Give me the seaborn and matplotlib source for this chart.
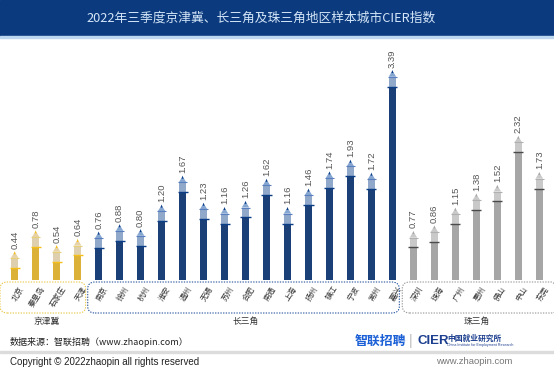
import matplotlib
matplotlib.use("Agg")
import matplotlib.pyplot as plt
import matplotlib.transforms as mtransforms
from matplotlib.patches import FancyBboxPatch, Rectangle
import pandas as pd
import seaborn as sns

# -----------------------------
# Data
# -----------------------------
jjj_cities = ["北京", "秦皇岛", "石家庄", "天津"]
jjj_values = [0.44, 0.78, 0.54, 0.64]
csj_cities = ["南京", "徐州", "杭州", "淮安", "温州", "无锡", "苏州", "合肥",
              "南通", "上海", "扬州", "镇江", "宁波", "常州", "嘉兴"]
csj_values = [0.76, 0.88, 0.80, 1.20, 1.67, 1.23, 1.16, 1.26,
              1.62, 1.16, 1.46, 1.74, 1.93, 1.72, 3.39]
zsj_cities = ["深圳", "珠海", "广州", "惠州", "佛山", "中山", "东莞"]
zsj_values = [0.77, 0.86, 1.15, 1.38, 1.52, 2.32, 1.73]
groups = ["京津冀", "长三角", "珠三角"]

title = "2022年三季度京津冀、长三角及珠三角地区样本城市CIER指数"

body_colors = {"京津冀": "#f6c01c", "长三角": "#0b3d86", "珠三角": "#a6a6a6"}
light_colors = {"京津冀": "#e6d2a6", "长三角": "#86a6d2", "珠三角": "#c9c9c9"}
edge_colors = {"京津冀": "#e8cf7a", "长三角": "#5a7fbf", "珠三角": "#b0b0b0"}

df = pd.DataFrame({
    "city": jjj_cities + csj_cities + zsj_cities,
    "value": jjj_values + csj_values + zsj_values,
    "group": [groups[0]] * len(jjj_cities) + [groups[1]] * len(csj_cities)
             + [groups[2]] * len(zsj_cities),
})
TIP = 0.08
BAND = 0.16
df["top"] = df["value"] - TIP
df["body"] = df["value"] - TIP - BAND

# -----------------------------
# Figure
# -----------------------------
sns.set_theme(style="white")
plt.rcParams["font.family"] = ["Noto Sans CJK SC", "DejaVu Sans"]
LAT = "Liberation Sans"

W, H = 554, 389
fig = plt.figure(figsize=(W / 100, H / 100), dpi=100)


def fy(px):
    return 1 - px / H


# title banner
fig.patches.append(Rectangle((0, fy(36)), 1, 36 / H, transform=fig.transFigure,
                             color="#0b3a7e", zorder=0))
fig.patches.append(Rectangle((0, fy(38)), 1, 2 / H, transform=fig.transFigure,
                             color="#bcd6f0", zorder=0))
fig.text(261 / W, fy(18), title, ha="center", va="center", fontsize=9.2,
         color="#d4e6f8")

BASE = 280
ax = fig.add_axes([0, fy(BASE), 1, (BASE - 43.6) / H])
ax.set_facecolor("none")

sns.barplot(data=df, x="city", y="top", hue="group", palette=light_colors,
            dodge=False, width=0.36, legend=False, ax=ax, zorder=2,
            linewidth=0)
sns.barplot(data=df, x="city", y="body", hue="group", palette=body_colors,
            dodge=False, width=0.36, legend=False, ax=ax, zorder=3,
            linewidth=0)

xs = list(range(len(df)))
for x, v, g in zip(xs, df["value"], df["group"]):
    # pencil tip
    ax.fill([x - 0.18, x + 0.18, x], [v - TIP, v - TIP, v + 0.02],
            color=light_colors[g], zorder=4, lw=0)
    ax.fill([x - 0.05, x + 0.05, x], [v - 0.02, v - 0.02, v + 0.03],
            color=body_colors[g], zorder=5, lw=0)
    # junction lines
    jc = "#4a4a4a" if g == "珠三角" else body_colors[g]
    ax.plot([x - 0.24, x + 0.24], [v - TIP - BAND] * 2, color=jc,
            lw=1.0, zorder=5, solid_capstyle="butt")
    ax.plot([x - 0.2, x + 0.2], [v - TIP] * 2, color=edge_colors[g],
            lw=0.8, zorder=5, solid_capstyle="butt")
    ax.text(x, v + 0.07, f"{v:.2f}", rotation=90, ha="center", va="bottom",
            fontsize=6.8, color="#555555", family=LAT)

ax.set_xlim(-0.7, 25.7)
ax.set_ylim(0, 3.85)
ax.set_xlabel("")
ax.set_ylabel("")
ax.set_yticks([])
ax.set_xticks(xs)
ax.set_xticklabels(df["city"], rotation=58, ha="right", rotation_mode="anchor",
                   fontsize=5.5, color="#333333")
ax.tick_params(axis="x", length=0, pad=3.5)
shift = mtransforms.ScaledTranslation(4 / 100, 0, fig.dpi_scale_trans)
for lab in ax.get_xticklabels():
    lab.set_transform(lab.get_transform() + shift)
sns.despine(ax=ax, left=True, bottom=True, top=True, right=True)

# group boxes
trans = mtransforms.blended_transform_factory(ax.transData, fig.transFigure)
box_spans = [(-0.7, 3.38, "#e8c84a"), (3.48, 18.33, "#2a58a0"),
             (18.47, 25.9, "#9a9a9a")]
label_x = [1.5, 11, 22]
for (x0, x1, c), g, lx in zip(box_spans, groups, label_x):
    box = FancyBboxPatch((x0, fy(313)), x1 - x0, (313 - 282) / H,
                         boxstyle="round,pad=0,rounding_size=0.35",
                         transform=trans, fill=False, edgecolor=c,
                         linestyle=(0, (1.2, 1.2)), lw=0.8, clip_on=False,
                         mutation_aspect=0.05)
    fig.patches.append(box)
    ax.text(lx, fy(321), g, transform=trans, fontsize=6.3, color="#333333",
            ha="center", va="center")

# footer
fig.text(10 / W, fy(342), "数据来源：智联招聘（www.zhaopin.com）", fontsize=6.5,
         color="#222222", va="center")
fig.text(355 / W, fy(341), "智联招聘", fontsize=9.3, color="#1a5fd6",
         fontweight="bold", va="center")
fig.text(409 / W, fy(341), "|", fontsize=10, color="#bbbbbb", va="center",
         family=LAT)
fig.text(417 / W, fy(341), "CIER", fontsize=9.5, color="#1d3f8f",
         fontweight="bold", va="center", family=LAT)
fig.text(447 / W, fy(338), "中国就业研究所", fontsize=5.6, color="#1d3f8f",
         fontweight="bold", va="center")
fig.text(447 / W, fy(345), "China Institute for Employment Research",
         fontsize=2.6, color="#1d3f8f", va="center", family=LAT)
fig.patches.append(Rectangle((0, fy(353)), 1, 2 / H, transform=fig.transFigure,
                             color="#dcdcdc", zorder=0))
fig.text(10 / W, fy(362), "Copyright © 2022zhaopin all rights reserved",
         fontsize=7.0, color="#222222", va="center", family=LAT)
fig.text(512 / W, fy(362), "www.zhaopin.com", fontsize=6.8, color="#777777",
         va="center", ha="right", family=LAT)

fig.savefig("out.png", dpi=100)
